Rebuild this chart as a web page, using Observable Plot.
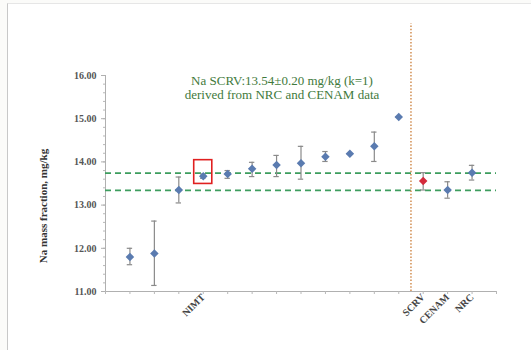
<!DOCTYPE html>
<html><head><meta charset="utf-8">
<script src="https://cdn.jsdelivr.net/npm/d3@7"></script>
<script src="https://cdn.jsdelivr.net/npm/@observablehq/plot@0.6"></script>
<style>
body{margin:0;background:#fbfbf9;}
#wrap{position:relative;width:531px;height:350px;overflow:hidden;background:#fbfbf9}
#page{position:absolute;left:7px;top:3px;right:0;bottom:0;background:#fff;border-left:1px solid #c8c8c8;border-top:1px solid #e6e6e6}
#chart{position:absolute;left:0;top:0}
#chart svg text{font-family:'Liberation Serif','DejaVu Serif',serif}
#ylab{position:absolute;left:43px;top:206px;transform:translate(-50%,-50%) rotate(-90deg);white-space:nowrap;
  font:bold 11px 'Liberation Serif','DejaVu Serif',serif;color:#333}
</style></head><body><div id="wrap"><div id="page"></div><div id="chart"></div><div id="ylab"></div></div>
<script>
// Data
const labs     = ["", "", "", "NIMT", "", "", "", "", "", "", "", "", "SCRV", "CENAM", "NRC"];
const values   = [11.80, 11.88, 13.35, 13.67, 13.72, 13.84, 13.93, 13.97, 14.12, 14.19, 14.36, 15.04, 13.56, 13.35, 13.75];
const errLow   = [11.62, 11.14, 13.05, 13.62, 13.62, 13.66, 13.66, 13.60, 14.01, 14.19, 14.01, 15.04, 13.35, 13.16, 13.58];
const errHigh  = [12.00, 12.63, 13.65, 13.72, 13.80, 13.99, 14.15, 14.36, 14.24, 14.19, 14.69, 15.04, 13.75, 13.54, 13.92];
const highlighted = ["NIMT"];
const refValue = "SCRV";
const scrv = 13.54, scrvU = 0.20;
const yTicks = [11, 12, 13, 14, 15, 16];
const titleText = "Na SCRV:13.54\u00b10.20 mg/kg (k=1)\nderived from NRC and CENAM data";
const yLabel = "Na mass fraction, mg/kg";

const data = labs.map((l, i) => ({pos: i + 1, lab: l, v: values[i], lo: errLow[i], hi: errHigh[i]}));
const nSlots = labs.length + 1;
const sepPos = labs.indexOf(refValue) + 0.5;

const serif = "'Liberation Serif', 'DejaVu Serif', serif";
const chart = Plot.plot({
  width: 531, height: 350,
  marginTop: 75, marginBottom: 59, marginLeft: 105, marginRight: 35,
  style: {background: "transparent", fontFamily: serif},
  x: {domain: [0, nSlots], axis: null},
  y: {domain: [11, 16], axis: null},
  marks: [
    Plot.ruleX([0], {y1: 11, y2: 16, stroke: "#b0b0b0"}),
    Plot.ruleY([11], {x1: 0, x2: nSlots, stroke: "#b0b0b0"}),
    Plot.axisY(d3.range(11, 16.001, 0.2), {tickSize: 2, tickFormat: () => "", stroke: "#b8b8b8"}),
    Plot.axisY(yTicks, {tickSize: 4, tickPadding: 5, tickFormat: d => d.toFixed(2), stroke: "#b0b0b0",
      fontSize: 10, fontWeight: "bold", fill: "#555", label: null, fontFamily: serif}),
    Plot.axisX(d3.range(0, nSlots + 1), {tickSize: 3, stroke: "#b8b8b8", tickRotate: -45, tickPadding: 1,
      tickFormat: i => (i >= 1 && i <= labs.length) ? labs[i - 1] : "",
      fontSize: 10, fontWeight: "bold", fill: "#444", label: null, fontFamily: serif}),
    Plot.ruleY([scrv - scrvU, scrv + scrvU], {x1: 0, x2: nSlots, stroke: "#3d9d5e", strokeWidth: 1.7, strokeDasharray: "6,4"}),
    Plot.ruleX([sepPos], {y1: 11, y2: 17.2, stroke: "#d4945a", strokeWidth: 1.6, strokeDasharray: "1.5,1.8"}),
    Plot.ruleX(data, {x: "pos", y1: "lo", y2: "hi", stroke: "#8a8a8a", strokeWidth: 1.2}),
    Plot.ruleY(data, {y: "lo", x1: d => d.pos - 0.11, x2: d => d.pos + 0.11, stroke: "#8a8a8a", strokeWidth: 1.2}),
    Plot.ruleY(data, {y: "hi", x1: d => d.pos - 0.11, x2: d => d.pos + 0.11, stroke: "#8a8a8a", strokeWidth: 1.2}),
    Plot.dot(data, {x: "pos", y: "v", symbol: "square", rotate: 45, r: 3.4,
      fill: d => d.lab === refValue ? "#d42a3c" : "#5a7bb0", stroke: null}),
    Plot.rect(data.filter(d => highlighted.includes(d.lab)), {
      x1: d => d.pos - 0.37, x2: d => d.pos + 0.37, y1: d => d.v - 0.18, y2: d => d.v + 0.37,
      fill: "none", stroke: "#e02020", strokeWidth: 1.6}),
    Plot.text([titleText], {frameAnchor: "top", dx: -19, dy: 12, lineAnchor: "middle", lineHeight: 1.1,
      fontSize: 13, fill: "#3f7a3c", fontFamily: serif})
  ]
});
document.getElementById("chart").append(chart);
document.getElementById("ylab").textContent = yLabel;
</script>
</body></html>
